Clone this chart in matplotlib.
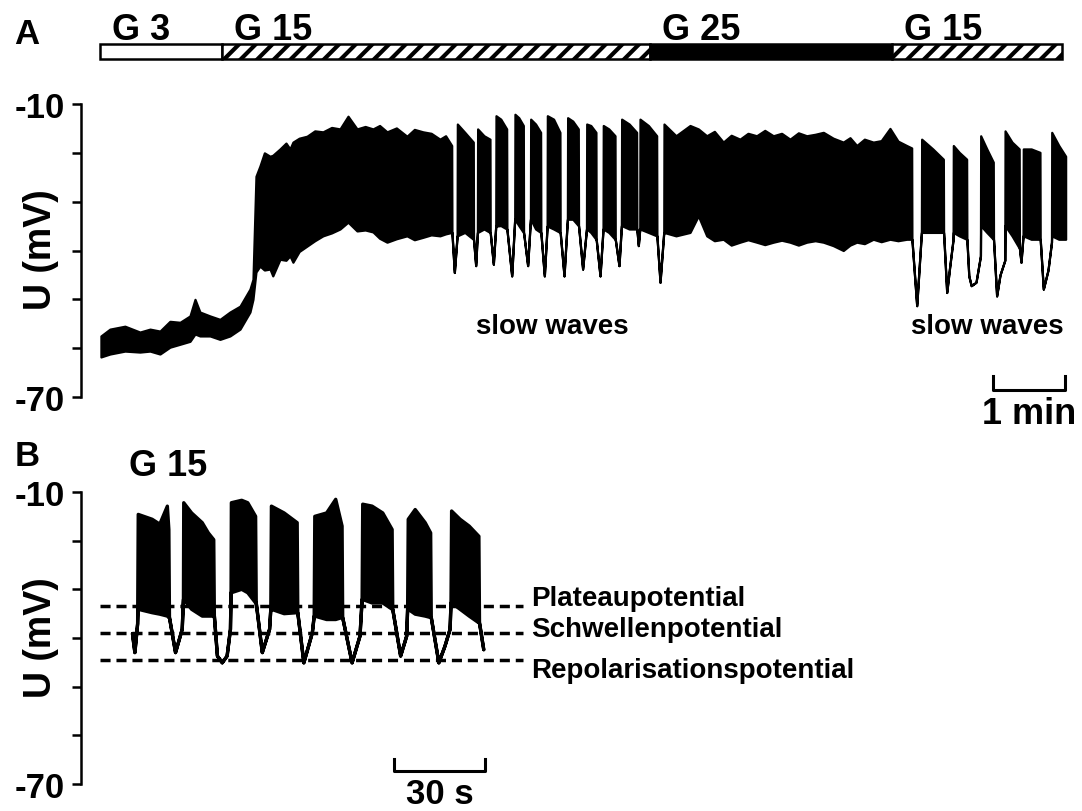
import matplotlib
matplotlib.use("Agg")
import matplotlib.pyplot as plt
from matplotlib.patches import Rectangle
from matplotlib.transforms import blended_transform_factory

plt.rcParams['font.family'] = ['Liberation Sans', 'DejaVu Sans']
plt.rcParams['font.weight'] = 'bold'
plt.rcParams['hatch.linewidth'] = 3.0

# --- Panel A: envelope of the membrane potential (time in s, potential in mV)
# where upper == lower the trace is a single line (interburst phases)
a_t = [
    0.8, 8.3, 20.8, 33.3, 41.7, 50.0, 58.3, 66.7, 75.0, 79.2, 83.3, 91.7, 100.0, 108.3, 116.7, 125.0, 127.5,
    130.0, 133.3, 137.0, 141.7, 144.0, 150.0, 155.0, 158.3, 160.8, 166.0, 172.5, 179.0, 185.8, 193.0, 200.0,
    206.7, 214.2, 221.0, 227.5, 233.0, 239.2, 247.0, 255.8, 262.0, 269.2, 276.0, 283.3, 288.0, 293.1,
    293.3, 295.3, 297.6, 297.8, 304.0, 311.1,
    311.3, 313.1, 314.5, 314.7, 320.0, 325.0,
    325.2, 327.8, 329.8, 330.0, 334.0, 338.9,
    339.1, 343.1, 345.6, 345.8, 349.0, 352.8,
    353.0, 356.4, 358.7, 358.9, 363.0, 367.2,
    367.4, 370.3, 372.6, 372.8, 378.0, 383.3,
    383.5, 386.7, 389.5, 389.7, 394.0, 398.6,
    398.8, 402.2, 405.4, 405.6, 409.0, 413.3,
    413.5, 416.7, 419.2, 419.4, 424.0, 429.2,
    429.4, 432.5, 434.5, 434.7, 441.0, 447.2,
    447.4, 448.6, 449.8, 450.0, 457.0, 463.9,
    464.1, 466.7, 469.8, 470.0, 480.0, 491.7,
    498.6, 505.6, 512.0, 519.4, 526.0, 533.3, 540.0, 547.2, 554.0, 561.1, 568.0, 575.0,
    582.0, 588.9, 596.0, 602.8, 611.0, 619.4, 625.0, 630.6, 637.0, 644.4, 651.0, 658.3, 665.0, 672.2, 676.4,
    676.6, 680.6, 684.5, 684.7, 694.0, 702.8,
    703.0, 705.6, 708.0, 710.9, 711.1, 716.0, 722.2,
    722.4, 724.0, 726.0, 730.0, 733.7, 733.9, 739.0, 744.4,
    744.6, 747.2, 750.0, 754.0, 754.2, 760.0, 766.0,
    766.2, 767.5, 769.2, 769.4, 776.0, 783.3,
    783.5, 786.1, 790.0, 792.9, 793.1, 799.0, 804.7,
]
a_hi = [
    -57.5, -56.1, -55.5, -56.7, -56.1, -56.5, -54.5, -54.7, -53.4, -50.0, -52.6, -53.4, -54.1, -52.6, -51.4, -47.9, -45.9,
    -24.8, -22.7, -20.0, -20.7, -20.5, -19.2, -18.0, -19.2, -17.8, -17.0, -16.6, -15.5, -15.7, -14.8, -15.1,
    -12.5, -15.1, -14.6, -15.1, -14.4, -15.7, -14.9, -16.6, -15.2, -15.7, -16.0, -17.2, -16.5, -18.5,
    -36.3, -44.5, -37.0, -14.1, -15.8, -17.8,
    -37.7, -43.1, -36.3, -15.1, -16.5, -17.2,
    -36.3, -42.8, -35.0, -12.4, -13.1, -15.1,
    -35.6, -45.2, -33.6, -12.1, -12.8, -14.4,
    -36.3, -43.1, -33.6, -13.1, -14.1, -15.8,
    -36.3, -45.2, -35.0, -12.4, -13.1, -15.8,
    -36.3, -45.2, -33.6, -12.8, -13.5, -15.1,
    -34.9, -43.8, -35.6, -14.1, -14.4, -15.8,
    -37.7, -45.2, -35.6, -14.4, -15.1, -16.5,
    -37.7, -43.1, -34.9, -13.1, -14.1, -15.8,
    -35.6, -39.0, -35.6, -13.1, -14.4, -16.5,
    -37.0, -46.5, -36.3, -14.1, -16.5, -14.4,
    -15.1, -16.5, -15.6, -17.8, -16.4, -17.2, -16.0, -16.5, -15.4, -16.5, -16.0, -17.2,
    -15.9, -16.5, -16.2, -15.8, -17.0, -17.8, -16.9, -18.5, -17.2, -17.8, -17.5, -15.0, -17.6, -18.5, -19.0,
    -37.7, -51.3, -36.3, -17.2, -19.2, -21.3,
    -36.3, -48.6, -43.5, -37.7, -18.5, -19.9, -21.3,
    -37.7, -45.2, -47.2, -46.5, -41.1, -16.5, -19.2, -21.9,
    -37.7, -49.3, -45.0, -42.0, -15.5, -17.8, -19.2,
    -39.5, -42.4, -37.0, -19.2, -19.2, -19.9,
    -37.7, -47.9, -44.0, -38.3, -15.8, -18.5, -20.7,
]
a_lo = [
    -61.8, -61.2, -60.6, -60.8, -60.6, -61.2, -59.8, -59.2, -58.6, -57.1, -57.5, -57.5, -58.2, -57.5, -56.1, -52.6, -50.0,
    -44.4, -43.2, -44.0, -43.8, -45.2, -41.8, -42.0, -41.1, -42.4, -40.2, -39.1, -38.0, -37.0, -36.4, -35.6,
    -34.2, -36.0, -35.8, -36.2, -37.5, -38.3, -37.6, -37.0, -37.8, -37.3, -36.8, -37.0, -36.6, -36.3,
    -36.3, -44.5, -37.0, -37.0, -36.3, -37.7,
    -37.7, -43.1, -36.3, -36.3, -35.6, -36.3,
    -36.3, -42.8, -35.0, -35.0, -34.9, -35.6,
    -35.6, -45.2, -33.6, -33.6, -34.9, -36.3,
    -36.3, -43.1, -33.6, -33.6, -35.6, -36.3,
    -36.3, -45.2, -35.0, -35.0, -35.6, -36.3,
    -36.3, -45.2, -33.6, -33.6, -33.6, -34.9,
    -34.9, -43.8, -35.6, -35.6, -36.3, -37.7,
    -37.7, -45.2, -35.6, -35.6, -36.3, -37.7,
    -37.7, -43.1, -34.9, -34.9, -35.6, -35.6,
    -35.6, -39.0, -35.6, -35.6, -36.3, -37.0,
    -37.0, -46.5, -36.3, -36.3, -37.0, -36.3,
    -32.9, -37.0, -38.0, -37.7, -38.9, -38.3, -37.8, -38.3, -38.8, -38.3, -37.9, -38.3,
    -38.9, -38.3, -38.0, -38.3, -39.0, -40.0, -38.9, -38.3, -38.6, -37.7, -38.2, -37.7, -38.0, -37.7, -37.7,
    -37.7, -51.3, -36.3, -36.3, -36.3, -36.3,
    -36.3, -48.6, -43.5, -37.7, -36.3, -37.0, -37.7,
    -37.7, -45.2, -47.2, -46.5, -41.1, -34.9, -36.3, -37.7,
    -37.7, -49.3, -45.0, -42.0, -34.9, -37.0, -39.5,
    -39.5, -42.4, -37.0, -37.0, -37.7, -37.7,
    -37.7, -47.9, -44.0, -38.3, -37.0, -37.7, -37.7,
]

# glucose protocol (mM) and segment boundaries in s
stim_labels = ['G 3', 'G 15', 'G 25', 'G 15']
stim_edges = [0.0, 101.7, 458.3, 660.0, 801.7]
slow_wave_t = [376.7, 739.2]
scale_a = 60  # s

# --- Panel B: burst pattern in G 15 (time in s, potential in mV)
b_t = [
    0.0, 0.8, 1.7,
    1.9, 6.5, 9.0, 11.5, 12.0,
    12.2, 14.2, 16.4, 16.8,
    16.9, 19.5, 23.0, 25.0, 26.8,
    27.0, 28.0, 29.6, 31.2, 32.3, 32.5,
    32.6, 36.0, 38.0, 40.6,
    40.8, 42.8, 45.2, 45.6,
    45.8, 50.0, 54.3,
    54.5, 56.5, 59.3, 59.9,
    60.1, 64.0, 67.0, 69.1,
    69.3, 72.4, 75.0, 75.7,
    75.9, 79.0, 82.5, 85.6,
    85.8, 88.4, 90.4, 90.7,
    90.9, 93.2, 96.5, 98.3,
    98.5, 101.0, 103.0, 104.7, 105.0,
    105.2, 108.0, 111.0, 114.2,
    114.4, 115.8,
]
b_hi = [
    -39.0, -42.9, -37.0,
    -14.5, -15.5, -16.5, -12.8, -17.6,
    -35.7, -42.9, -38.1, -32.0,
    -12.1, -14.2, -16.2, -18.3, -19.7,
    -35.4, -43.6, -45.0, -43.6, -38.1, -30.6,
    -12.1, -11.6, -12.1, -14.9,
    -32.7, -42.9, -38.1, -34.0,
    -12.8, -14.2, -16.2,
    -34.7, -45.0, -38.8, -35.4,
    -14.9, -14.2, -11.4, -16.9,
    -35.7, -45.0, -39.5, -32.0,
    -12.4, -12.8, -14.2, -17.6,
    -34.0, -43.6, -39.5, -34.0,
    -15.5, -13.5, -16.2, -18.3,
    -35.7, -45.0, -41.6, -38.1, -32.7,
    -13.8, -15.5, -16.9, -19.0,
    -36.8, -42.3,
]
b_lo = [
    -39.0, -42.9, -37.0,
    -34.0, -34.7, -35.0, -35.4, -35.7,
    -35.7, -42.9, -38.1, -32.0,
    -32.0, -34.0, -35.4, -35.4, -35.4,
    -35.4, -43.6, -45.0, -43.6, -38.1, -30.6,
    -30.6, -29.9, -30.6, -32.7,
    -32.7, -42.9, -38.1, -34.0,
    -34.0, -34.9, -34.7,
    -34.7, -45.0, -38.8, -35.4,
    -35.4, -36.1, -36.1, -35.7,
    -35.7, -45.0, -39.5, -32.0,
    -32.0, -32.7, -32.7, -34.0,
    -34.0, -43.6, -39.5, -34.0,
    -34.0, -35.0, -35.4, -35.7,
    -35.7, -45.0, -41.6, -38.1, -32.7,
    -32.7, -34.0, -35.4, -36.8,
    -36.8, -42.3,
]
b_levels = [-33.4, -39.0, -44.5]
b_level_names = ['Plateaupotential', 'Schwellenpotential', 'Repolarisationspotential']
scale_b = 30  # s

W, H = 1082, 812
fig = plt.figure(figsize=(W / 100, H / 100), dpi=100)
ax_a = fig.add_axes([81 / W, 1 - 398 / H, 991 / W, 293 / H])
ax_b = fig.add_axes([81 / W, 1 - 785 / H, 442 / W, 292 / H])


def style_axis(ax):
    ax.set_ylim(-70, -10)
    ax.set_yticks(range(-10, -71, -10))
    ax.set_yticklabels(['-10', '', '', '', '', '', '-70'])
    for side in ('top', 'right', 'bottom'):
        ax.spines[side].set_visible(False)
    ax.spines['left'].set_linewidth(1.8)
    ax.tick_params(axis='y', direction='out', length=6.5, width=1.8, pad=5, labelsize=25)
    ax.set_xticks([])


# Panel A
ax_a.set_xlim(-15.8, 810)
style_axis(ax_a)
ax_a.fill_between(a_t, a_lo, a_hi, facecolor='black', edgecolor='black', linewidth=1.6)
for t in slow_wave_t:
    ax_a.text(t, -55.5, 'slow waves', ha='center', va='center', fontsize=20)

x0 = 744
ax_a.plot([x0, x0, x0 + scale_a, x0 + scale_a], [-65.7, -68.6, -68.6, -65.7],
          color='black', lw=2.2, clip_on=False)
ax_a.text(x0 + scale_a / 2, -73.3, '%d min' % (scale_a // 60), ha='center', va='center', fontsize=26)

# glucose bar above the trace
trans = blended_transform_factory(ax_a.transData, ax_a.transAxes)
for i, label in enumerate(stim_labels):
    left, right = stim_edges[i], stim_edges[i + 1]
    if label == 'G 3':
        face, hatch = 'white', None
    elif label == 'G 25':
        face, hatch = 'black', None
    else:
        face, hatch = 'white', '//'
    ax_a.add_patch(Rectangle((left, 1.1536), right - left, 0.0512, transform=trans,
                             facecolor=face, edgecolor='black', hatch=hatch,
                             linewidth=1.8, clip_on=False))
    ax_a.text(left + 10, 1.222, label, transform=trans, ha='left', va='baseline', fontsize=26)

# Panel B
ax_b.set_xlim(-16.8, 128.9)
style_axis(ax_b)
ax_b.fill_between(b_t, b_lo, b_hi, facecolor='black', edgecolor='black', linewidth=2.4)
ax_b.hlines(b_levels, -10.6, 128.9, colors='black', linestyles=[(0, (2.9, 1.7))],
            linewidth=2.5, clip_on=False)

x0 = 86.4
ax_b.plot([x0, x0, x0 + scale_b, x0 + scale_b], [-64.9, -67.3, -67.3, -64.9],
          color='black', lw=2.2, clip_on=False)
ax_b.text(x0 + scale_b / 2, -72.0, '%d s' % scale_b, ha='center', va='center', fontsize=25)

for y_px, name in zip([606, 637, 678], b_level_names):
    fig.text(531 / W, 1 - y_px / H, name, ha='left', va='baseline', fontsize=20)

fig.text(129 / W, 1 - 476 / H, 'G 15', ha='left', va='baseline', fontsize=26)

# panel letters and axis titles
fig.text(27 / W, 1 - 34 / H, 'A', ha='center', va='center', fontsize=25)
fig.text(27 / W, 1 - 457 / H, 'B', ha='center', va='center', fontsize=25)
fig.text(41 / W, 1 - 250 / H, 'U (mV)', rotation=90, ha='center', va='center', fontsize=27)
fig.text(41 / W, 1 - 638 / H, 'U (mV)', rotation=90, ha='center', va='center', fontsize=27)

fig.savefig('out.png', dpi=100)
